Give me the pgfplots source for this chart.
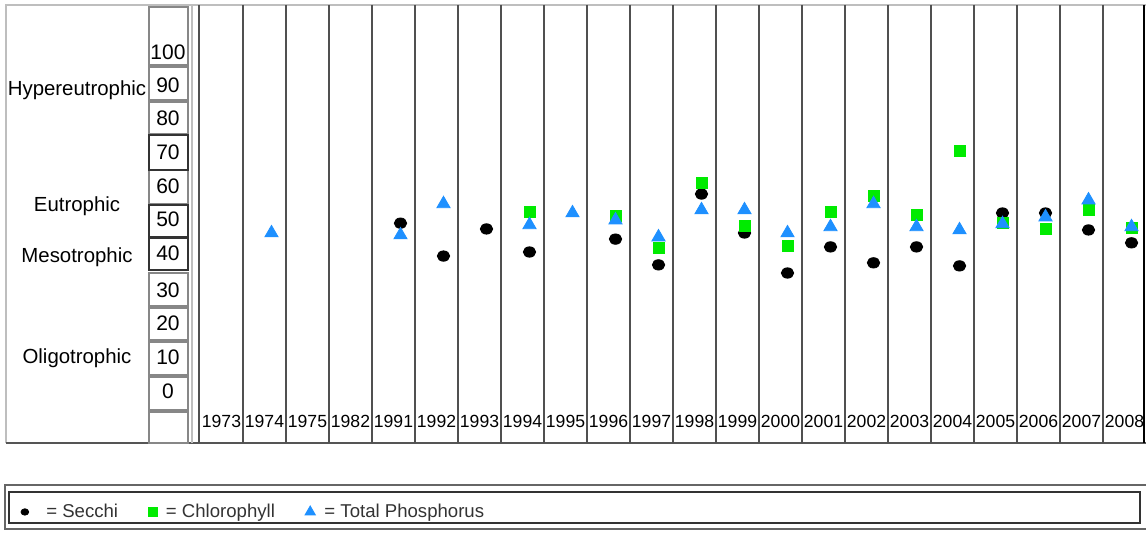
\documentclass[border=0pt]{standalone}
\usepackage{pgfplots}
\pgfplotsset{compat=1.18}
\usepackage{pgfplotstable}
\usepackage{fontspec}
\setmainfont{Liberation Sans}

\definecolor{chlgreen}{RGB}{0,235,0}
\definecolor{tpblue}{RGB}{30,144,255}
\definecolor{lightframe}{RGB}{190,190,190}
\definecolor{darkframe}{RGB}{85,85,85}
\definecolor{cellline}{RGB}{135,135,135}
\definecolor{colline}{RGB}{80,80,80}

% x = column index (0 = 1973 ... 21 = 2008), y = trophic state index
\pgfplotstableread{
x y
4 49.5
5 39.8
6 47.8
7 41.0
9 44.8
10 37.2
11 58.1
12 46.6
13 34.8
14 42.5
15 37.8
16 42.5
17 36.9
18 52.5
19 52.5
20 47.5
21 43.7
}\secchi

\pgfplotstableread{
x y
7 52.8
9 51.6
10 42.2
11 61.4
12 48.7
13 42.8
14 52.8
15 57.5
16 51.9
17 70.8
18 49.6
19 47.8
20 53.4
21 48.1
}\chlor

\pgfplotstableread{
x y
1 46.6
4 46.0
5 55.2
7 49.0
8 52.5
9 50.4
10 45.4
11 53.4
12 53.4
13 46.6
14 48.4
15 55.2
16 48.4
17 47.5
18 49.3
19 51.3
20 56.3
21 48.4
}\phos

\begin{document}
\begin{tikzpicture}
\path[use as bounding box] (-3pt,-45pt) rectangle (570pt,221.5pt);

% table frame, drawn in pixel units of the reference
\begin{scope}[x=0.5pt,y=-0.5pt,shift={(-3pt,221.5pt)}]
  \draw[lightframe,line width=1pt] (6,443) -- (6,5) -- (1146,5);
  \draw[darkframe,line width=1.2pt] (6,443) -- (1146,443);
  \draw[black,line width=0.8pt] (1144,5) -- (1144,443);
  \draw[lightframe,line width=1pt] (192,5) -- (192,443);
  \draw[colline,line width=0.6pt] (199,5) -- (199,443);
  \foreach \k in {1,...,21}
    \draw[colline,line width=0.6pt] ({200+43*\k},5) -- ({200+43*\k},443);

  % scale column
  \foreach \a/\b in {7/65,67/100,102/134,170/204,273/306,308/340,342/375,377/410,412/443}
    \draw[cellline,line width=0.6pt] (149,\a) rectangle (188,\b);
  \foreach \a/\b in {135/170,205/237,238/270}
    \draw[black!80,line width=1.1pt] (149,\a) rectangle (188,\b);
  \foreach \v/\p in {100/52,90/85,80/118,70/152,60/186,50/219,40/253,30/290,20/323,10/357,0/391}
    \node[font=\fontsize{10.5}{12}\selectfont,inner sep=0pt] at (168,\p) {\v};

  \begin{scope}[every node/.style={font=\fontsize{10.2}{12}\selectfont,inner sep=0pt}]
    \node at (77,90) {Hypereutrophic};
    \node at (77,206) {Eutrophic};
    \node at (77,257) {Mesotrophic};
    \node at (77,358) {Oligotrophic};
  \end{scope}

  \foreach \yr [count=\i from 0] in {1973,1974,1975,1982,1991,1992,1993,1994,1995,1996,1997,1998,1999,2000,2001,2002,2003,2004,2005,2006,2007,2008}
    \node[font=\fontsize{8.8}{10}\selectfont,inner sep=0pt] at ({221.5+43*\i},421) {\yr};

  % legend frame
  \draw[darkframe!90,line width=0.9pt] (5,485) rectangle (1150,529);
  \draw[black!80,line width=1pt] (9,492) rectangle (1140,523);
\end{scope}

\begin{axis}[
  hide axis, scale only axis,
  width=570pt, height=219pt,
  at={(0pt,0pt)}, anchor=south west,
  xmin=-5.174, xmax=21.337,
  ymin=-15.34, ymax=113.86,
  clip=false,
  legend columns=3,
  legend style={
    draw=none, fill=none, inner sep=0pt, outer sep=0pt,
    at={(axis description cs:0.0132,-0.1575)}, anchor=west,
    font=\fontsize{9.3}{11}\selectfont, text=black!80,
    /tikz/every odd column/.append style={column sep=2.5pt},
    /tikz/every even column/.append style={column sep=13pt}},
]
\addplot[only marks, black, mark=*, mark size=2.6pt, mark options={xscale=1.2},
  legend image code/.code={\draw plot[only marks,mark size=1.6pt] coordinates {(0cm,0cm)};
    \path[draw=none,fill=none,opacity=0] (0pt,0pt) -- (6.2pt,0pt);}]
  table {\secchi};
\addlegendentry{= Secchi}
\addplot[only marks, chlgreen, mark=square*, mark size=2.8pt,
  legend image code/.code={\draw plot[only marks,mark size=2.2pt] coordinates {(0cm,0cm)};}]
  table {\chlor};
\addlegendentry{= Chlorophyll}
\addplot[only marks, tpblue, mark=triangle*, mark size=3.8pt,
  legend image code/.code={\draw plot[only marks,mark size=3pt] coordinates {(0cm,0cm)};}]
  table {\phos};
\addlegendentry{= Total Phosphorus}
\end{axis}
\end{tikzpicture}
\end{document}
